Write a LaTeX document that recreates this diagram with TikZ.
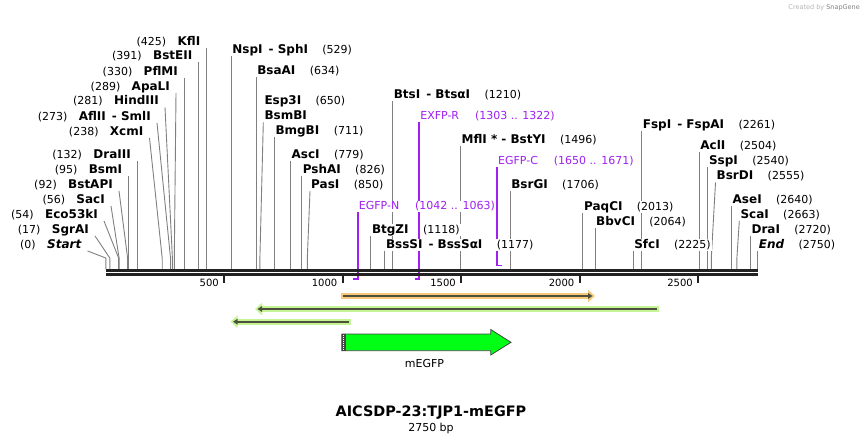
\documentclass[tikz,border=0pt]{standalone}
\usepackage{fontspec}
\setmainfont{DejaVu Sans}
\usetikzlibrary{positioning,arrows.meta}
\definecolor{SGGray}{RGB}{128,128,128}
\definecolor{SGDark}{RGB}{34,34,34}
\definecolor{SGPurple}{RGB}{160,32,240}
\definecolor{SGOrange}{RGB}{249,201,122}
\definecolor{SGLime}{RGB}{196,244,150}
\definecolor{SGFeat}{RGB}{78,80,62}
\definecolor{SGGreen}{RGB}{0,255,20}
\definecolor{SGEdge}{RGB}{70,70,70}
\pgfdeclarelayer{bg}
\pgfsetlayers{bg,main}

\begin{document}
\begin{tikzpicture}[x=1pt,y=-1pt,
    site/.style={font=\fontsize{12}{14}\selectfont\bfseries,fill=white,inner xsep=1pt,inner ysep=0pt,text height=9pt,text depth=2.5pt},
    siteit/.style={site,font=\fontsize{12}{14}\selectfont\bfseries\itshape},
    sitenum/.style={site,font=\fontsize{11}{13}\selectfont},
    primer/.style={sitenum,text=SGPurple},
    cutline/.style={draw=SGGray,line width=.9pt},
    primerline/.style={draw=SGPurple,line width=1.6pt},
    backbone/.style={draw=SGDark,line width=2.8pt},
    tick/.style={draw=SGDark,line width=1.8pt},
    ticklabel/.style={font=\fontsize{10}{12}\selectfont,inner sep=1pt,anchor=east},
    halo/.style={draw=#1,line width=6pt,-{Triangle[length=7pt,width=12pt]}},
    featline/.style={draw=SGFeat,line width=1.8pt,-{Triangle[length=4.5pt,width=5.5pt]},shorten >=2.5pt,shorten <=2pt},
    egfp/.style={fill=SGGreen,draw=SGEdge,line width=.8pt}]
  \useasboundingbox (0,0) rectangle (864,445);
  \node[anchor=east,font=\fontsize{6.5}{8}\selectfont,text=gray!60,inner sep=0pt] (credit) at (860,8) {Created by \textcolor{gray}{SnapGene}};

  % backbone
  \coordinate (bbtop) at (0,269);
  \coordinate (pra) at (0,265.5);
  \coordinate (prb) at (0,279);
  \draw[backbone] (105.8,270.5) -- (757.6,270.5);
  \draw[backbone] (105.8,274.7) -- (757.6,274.7);
  \draw[tick] (224.3,275.5) -- (224.3,283);
  \draw[tick] (342.8,275.5) -- (342.8,283);
  \draw[tick] (461.3,275.5) -- (461.3,283);
  \draw[tick] (579.8,275.5) -- (579.8,283);
  \draw[tick] (698.3,275.5) -- (698.3,283);
  \node[ticklabel] (t500) at (220,283) {500};
  \node[ticklabel] (t1000) at (338.5,283) {1000};
  \node[ticklabel] (t1500) at (457,283) {1500};
  \node[ticklabel] (t2000) at (575.5,283) {2000};
  \node[ticklabel] (t2500) at (694,283) {2500};

  % sites left of their cut
  \node[site,anchor=east] (kfl) at (201.5,42) {KflI};
  \node[sitenum,left=9pt of kfl] (kfl-n) {(425)};
  \node[site,anchor=east] (bsteii) at (193.5,56.5) {BstEII};
  \node[sitenum,left=9pt of bsteii] (bsteii-n) {(391)};
  \node[site,anchor=east] (pflmi) at (179,72) {PflMI};
  \node[sitenum,left=9pt of pflmi] (pflmi-n) {(330)};
  \node[site,anchor=east] (apali) at (171,87) {ApaLI};
  \node[sitenum,left=9pt of apali] (apali-n) {(289)};
  \node[site,anchor=east] (hind) at (160,101.5) {HindIII};
  \node[sitenum,left=9pt of hind] (hind-n) {(281)};
  \node[site,anchor=east] (afl) at (152,117) {AflII\hspace{6pt}- SmlI};
  \node[sitenum,left=9pt of afl] (afl-n) {(273)};
  \node[site,anchor=east] (xcm) at (144.5,132) {XcmI};
  \node[sitenum,left=9pt of xcm] (xcm-n) {(238)};
  \node[site,anchor=east] (draiii) at (132,155.5) {DraIII};
  \node[sitenum,left=9pt of draiii] (draiii-n) {(132)};
  \node[site,anchor=east] (bsm) at (123.3,170) {BsmI};
  \node[sitenum,left=9pt of bsm] (bsm-n) {(95)};
  \node[site,anchor=east] (bstap) at (114,185) {BstAPI};
  \node[sitenum,left=9pt of bstap] (bstap-n) {(92)};
  \node[site,anchor=east] (sac) at (106,200) {SacI};
  \node[sitenum,left=9pt of sac] (sac-n) {(56)};
  \node[site,anchor=east] (eco) at (99,215) {Eco53kI};
  \node[sitenum,left=9pt of eco] (eco-n) {(54)};
  \node[site,anchor=east] (sgr) at (90,230) {SgrAI};
  \node[sitenum,left=9pt of sgr] (sgr-n) {(17)};
  \node[siteit,anchor=east] (start) at (82.5,245) {Start};
  \node[sitenum,left=9pt of start] (start-n) {(0)};

  % sites right of their cut
  \node[site,anchor=west] (nsp) at (231.2,50) {NspI\hspace{6pt}- SphI};
  \node[sitenum,right=12pt of nsp] (nsp-n) {(529)};
  \node[site,anchor=west] (bsaa) at (256.1,71.5) {BsaAI};
  \node[sitenum,right=12pt of bsaa] (bsaa-n) {(634)};
  \node[site,anchor=west] (esp) at (263.3,101.5) {Esp3I};
  \node[sitenum,right=12pt of esp] (esp-n) {(650)};
  \node[site,anchor=west] (bsmb) at (263.3,116.5) {BsmBI};
  \node[site,anchor=west] (bmgb) at (274.3,131.5) {BmgBI};
  \node[sitenum,right=12pt of bmgb] (bmgb-n) {(711)};
  \node[site,anchor=west] (asc) at (290.4,155) {AscI};
  \node[sitenum,right=12pt of asc] (asc-n) {(779)};
  \node[site,anchor=west] (psha) at (301.6,170) {PshAI};
  \node[sitenum,right=12pt of psha] (psha-n) {(826)};
  \node[site,anchor=west] (pas) at (310,185) {PasI};
  \node[sitenum,right=12pt of pas] (pas-n) {(850)};
  \node[site,anchor=west] (btgz) at (370.8,230) {BtgZI};
  \node[sitenum,right=12pt of btgz] (btgz-n) {(1118)};
  \node[site,anchor=west] (bsss) at (384.8,245) {BssSI\hspace{6pt}- BssSαI};
  \node[sitenum,right=12pt of bsss] (bsss-n) {(1177)};
  \node[site,anchor=west] (bts) at (392.6,95) {BtsI\hspace{6pt}- BtsαI};
  \node[sitenum,right=12pt of bts] (bts-n) {(1210)};
  \node[site,anchor=west] (mfl) at (460.4,140) {MflI *\hspace{4pt}- BstYI};
  \node[sitenum,right=12pt of mfl] (mfl-n) {(1496)};
  \node[site,anchor=west] (bsrg) at (510.1,185) {BsrGI};
  \node[sitenum,right=12pt of bsrg] (bsrg-n) {(1706)};
  \node[site,anchor=west] (paqc) at (582.9,207) {PaqCI};
  \node[sitenum,right=12pt of paqc] (paqc-n) {(2013)};
  \node[site,anchor=west] (bbvc) at (595,222) {BbvCI};
  \node[sitenum,right=12pt of bbvc] (bbvc-n) {(2064)};
  \node[site,anchor=west] (sfc) at (633.1,245) {SfcI};
  \node[sitenum,right=12pt of sfc] (sfc-n) {(2225)};
  \node[site,anchor=west] (fsp) at (641.7,125) {FspI\hspace{6pt}- FspAI};
  \node[sitenum,right=12pt of fsp] (fsp-n) {(2261)};
  \node[site,anchor=west] (acl) at (699.2,146.5) {AclI};
  \node[sitenum,right=12pt of acl] (acl-n) {(2504)};
  \node[site,anchor=west] (ssp) at (707.8,161.5) {SspI};
  \node[sitenum,right=12pt of ssp] (ssp-n) {(2540)};
  \node[site,anchor=west] (bsrd) at (715.5,176.5) {BsrDI};
  \node[sitenum,right=12pt of bsrd] (bsrd-n) {(2555)};
  \node[site,anchor=west] (ase) at (731.5,200) {AseI};
  \node[sitenum,right=12pt of ase] (ase-n) {(2640)};
  \node[site,anchor=west] (sca) at (739.3,215) {ScaI};
  \node[sitenum,right=12pt of sca] (sca-n) {(2663)};
  \node[site,anchor=west] (drai) at (750.4,230) {DraI};
  \node[sitenum,right=12pt of drai] (drai-n) {(2720)};
  \node[siteit,anchor=west] (endsite) at (757.6,245) {End};
  \node[sitenum,right=12pt of endsite] (endsite-n) {(2750)};

  % primers
  \node[primer,anchor=west] (egfpn) at (357.7,206.5) {EGFP-N};
  \node[primer,right=13.5pt of egfpn] (egfpn-n) {(1042 .. 1063)};
  \node[primer,anchor=west] (exfpr) at (419.1,116.5) {EXFP-R};
  \node[primer,right=13.5pt of exfpr] (exfpr-n) {(1303 .. 1322)};
  \node[primer,anchor=west] (egfpc) at (496.9,161.5) {EGFP-C};
  \node[primer,right=13.5pt of egfpc] (egfpc-n) {(1650 .. 1671)};

  \begin{pgfonlayer}{bg}
    \draw[cutline] (kfl.south east) ++(5,0) -- (206.5,269);
    \draw[cutline] (bsteii.south east) ++(5,0) -- (198.5,269);
    \draw[cutline] (pflmi.south east) ++(5,0) -- (184,269);
    \draw[cutline] (apali.south east) ++(5,0) -- (174.3,258) -- (174.3,269);
    \draw[cutline] (hind.south east) ++(5,0) -- (172.4,258) -- (172.4,269);
    \draw[cutline] (afl.south east) ++(5,0) -- (170.5,258) -- (170.5,269);
    \draw[cutline] (xcm.south east) ++(5,0) -- (162.2,258) -- (162.2,269);
    \draw[cutline] (draiii.south east) ++(5,0) -- (137,269);
    \draw[cutline] (bsm.south east) ++(5,0) -- (128.3,269);
    \draw[cutline] (bstap.south east) ++(5,0) -- (127.6,258) -- (127.6,269);
    \draw[cutline] (sac.south east) ++(5,0) -- (119.1,258) -- (119.1,269);
    \draw[cutline] (eco.south east) ++(5,0) -- (118.6,258) -- (118.6,269);
    \draw[cutline] (sgr.south east) ++(5,0) -- (109.8,258) -- (109.8,269);
    \draw[cutline] (start.south east) ++(5,0) -- (105.8,258) -- (105.8,269);

    \draw[cutline] (nsp.south west) -- (nsp.south west |- bbtop);
    \draw[cutline] (bsaa.south west) -- (bsaa.south west |- bbtop);
    \draw[cutline] (bsmb.south west) -- (259.9,258) -- (259.9,269);
    \draw[cutline] (bmgb.south west) -- (bmgb.south west |- bbtop);
    \draw[cutline] (asc.south west) -- (asc.south west |- bbtop);
    \draw[cutline] (psha.south west) -- (psha.south west |- bbtop);
    \draw[cutline] (pas.south west) -- (307.3,258) -- (307.3,269);
    \draw[cutline] (btgz.south west) -- (btgz.south west |- bbtop);
    \draw[cutline] (bsss.south west) -- (bsss.south west |- bbtop);
    \draw[cutline] (bts.south west) -- (bts.south west |- bbtop);
    \draw[cutline] (mfl.south west) -- (mfl.south west |- bbtop);
    \draw[cutline] (bsrg.south west) -- (bsrg.south west |- bbtop);
    \draw[cutline] (paqc.south west) -- (paqc.south west |- bbtop);
    \draw[cutline] (bbvc.south west) -- (bbvc.south west |- bbtop);
    \draw[cutline] (sfc.south west) -- (sfc.south west |- bbtop);
    \draw[cutline] (fsp.south west) -- (fsp.south west |- bbtop);
    \draw[cutline] (acl.south west) -- (acl.south west |- bbtop);
    \draw[cutline] (ssp.south west) -- (ssp.south west |- bbtop);
    \draw[cutline] (bsrd.south west) -- (711.3,258) -- (711.3,269);
    \draw[cutline] (ase.south west) -- (ase.south west |- bbtop);
    \draw[cutline] (sca.south west) -- (736.9,258) -- (736.9,269);
    \draw[cutline] (drai.south west) -- (drai.south west |- bbtop);
    \draw[cutline] (endsite.south west) -- (endsite.south west |- bbtop);

    \draw[primerline] (egfpn.south west) -- (egfpn.south west |- prb) -- (352.8,279);
    \draw[primerline] (exfpr.south west) -- (exfpr.south west |- prb) -- (414.6,279);
    \draw[primerline] (egfpc.south west) -- (egfpc.south west |- pra) -- (501.8,265.5);
  \end{pgfonlayer}

  % features
  \coordinate (orL) at (341,296);
  \coordinate (orR) at (595,296);
  \coordinate (g1R) at (658.5,309);
  \coordinate (g1L) at (255,309);
  \coordinate (g2R) at (351,321.7);
  \coordinate (g2L) at (230.5,321.7);
  \draw[halo=SGOrange] (orL) -- (orR);
  \draw[featline] (orL) -- (orR);
  \draw[halo=SGLime] (g1R) -- (g1L);
  \draw[featline] (g1R) -- (g1L);
  \draw[halo=SGLime] (g2R) -- (g2L);
  \draw[featline] (g2R) -- (g2L);

  \draw[egfp] (341.7,334) -- (490.7,334) -- (490.7,329.5) -- (511,342.3) -- (490.7,355) -- (490.7,350.7) -- (341.7,350.7) -- cycle;
  \fill[SGEdge] (341.7,334) rectangle (345.5,350.7);
  \draw[white,line width=.8pt,dash pattern=on 1pt off 1pt] (343.6,335) -- (343.6,350);
  \node[font=\fontsize{11}{13}\selectfont] (megfp) at (424.5,363) {mEGFP};

  \node[font=\fontsize{14.4}{16}\selectfont\bfseries] (title) at (431,413) {AICSDP-23:TJP1-mEGFP};
  \node[font=\fontsize{11}{13}\selectfont] (size) at (431,428.5) {2750 bp};
\end{tikzpicture}
\end{document}
